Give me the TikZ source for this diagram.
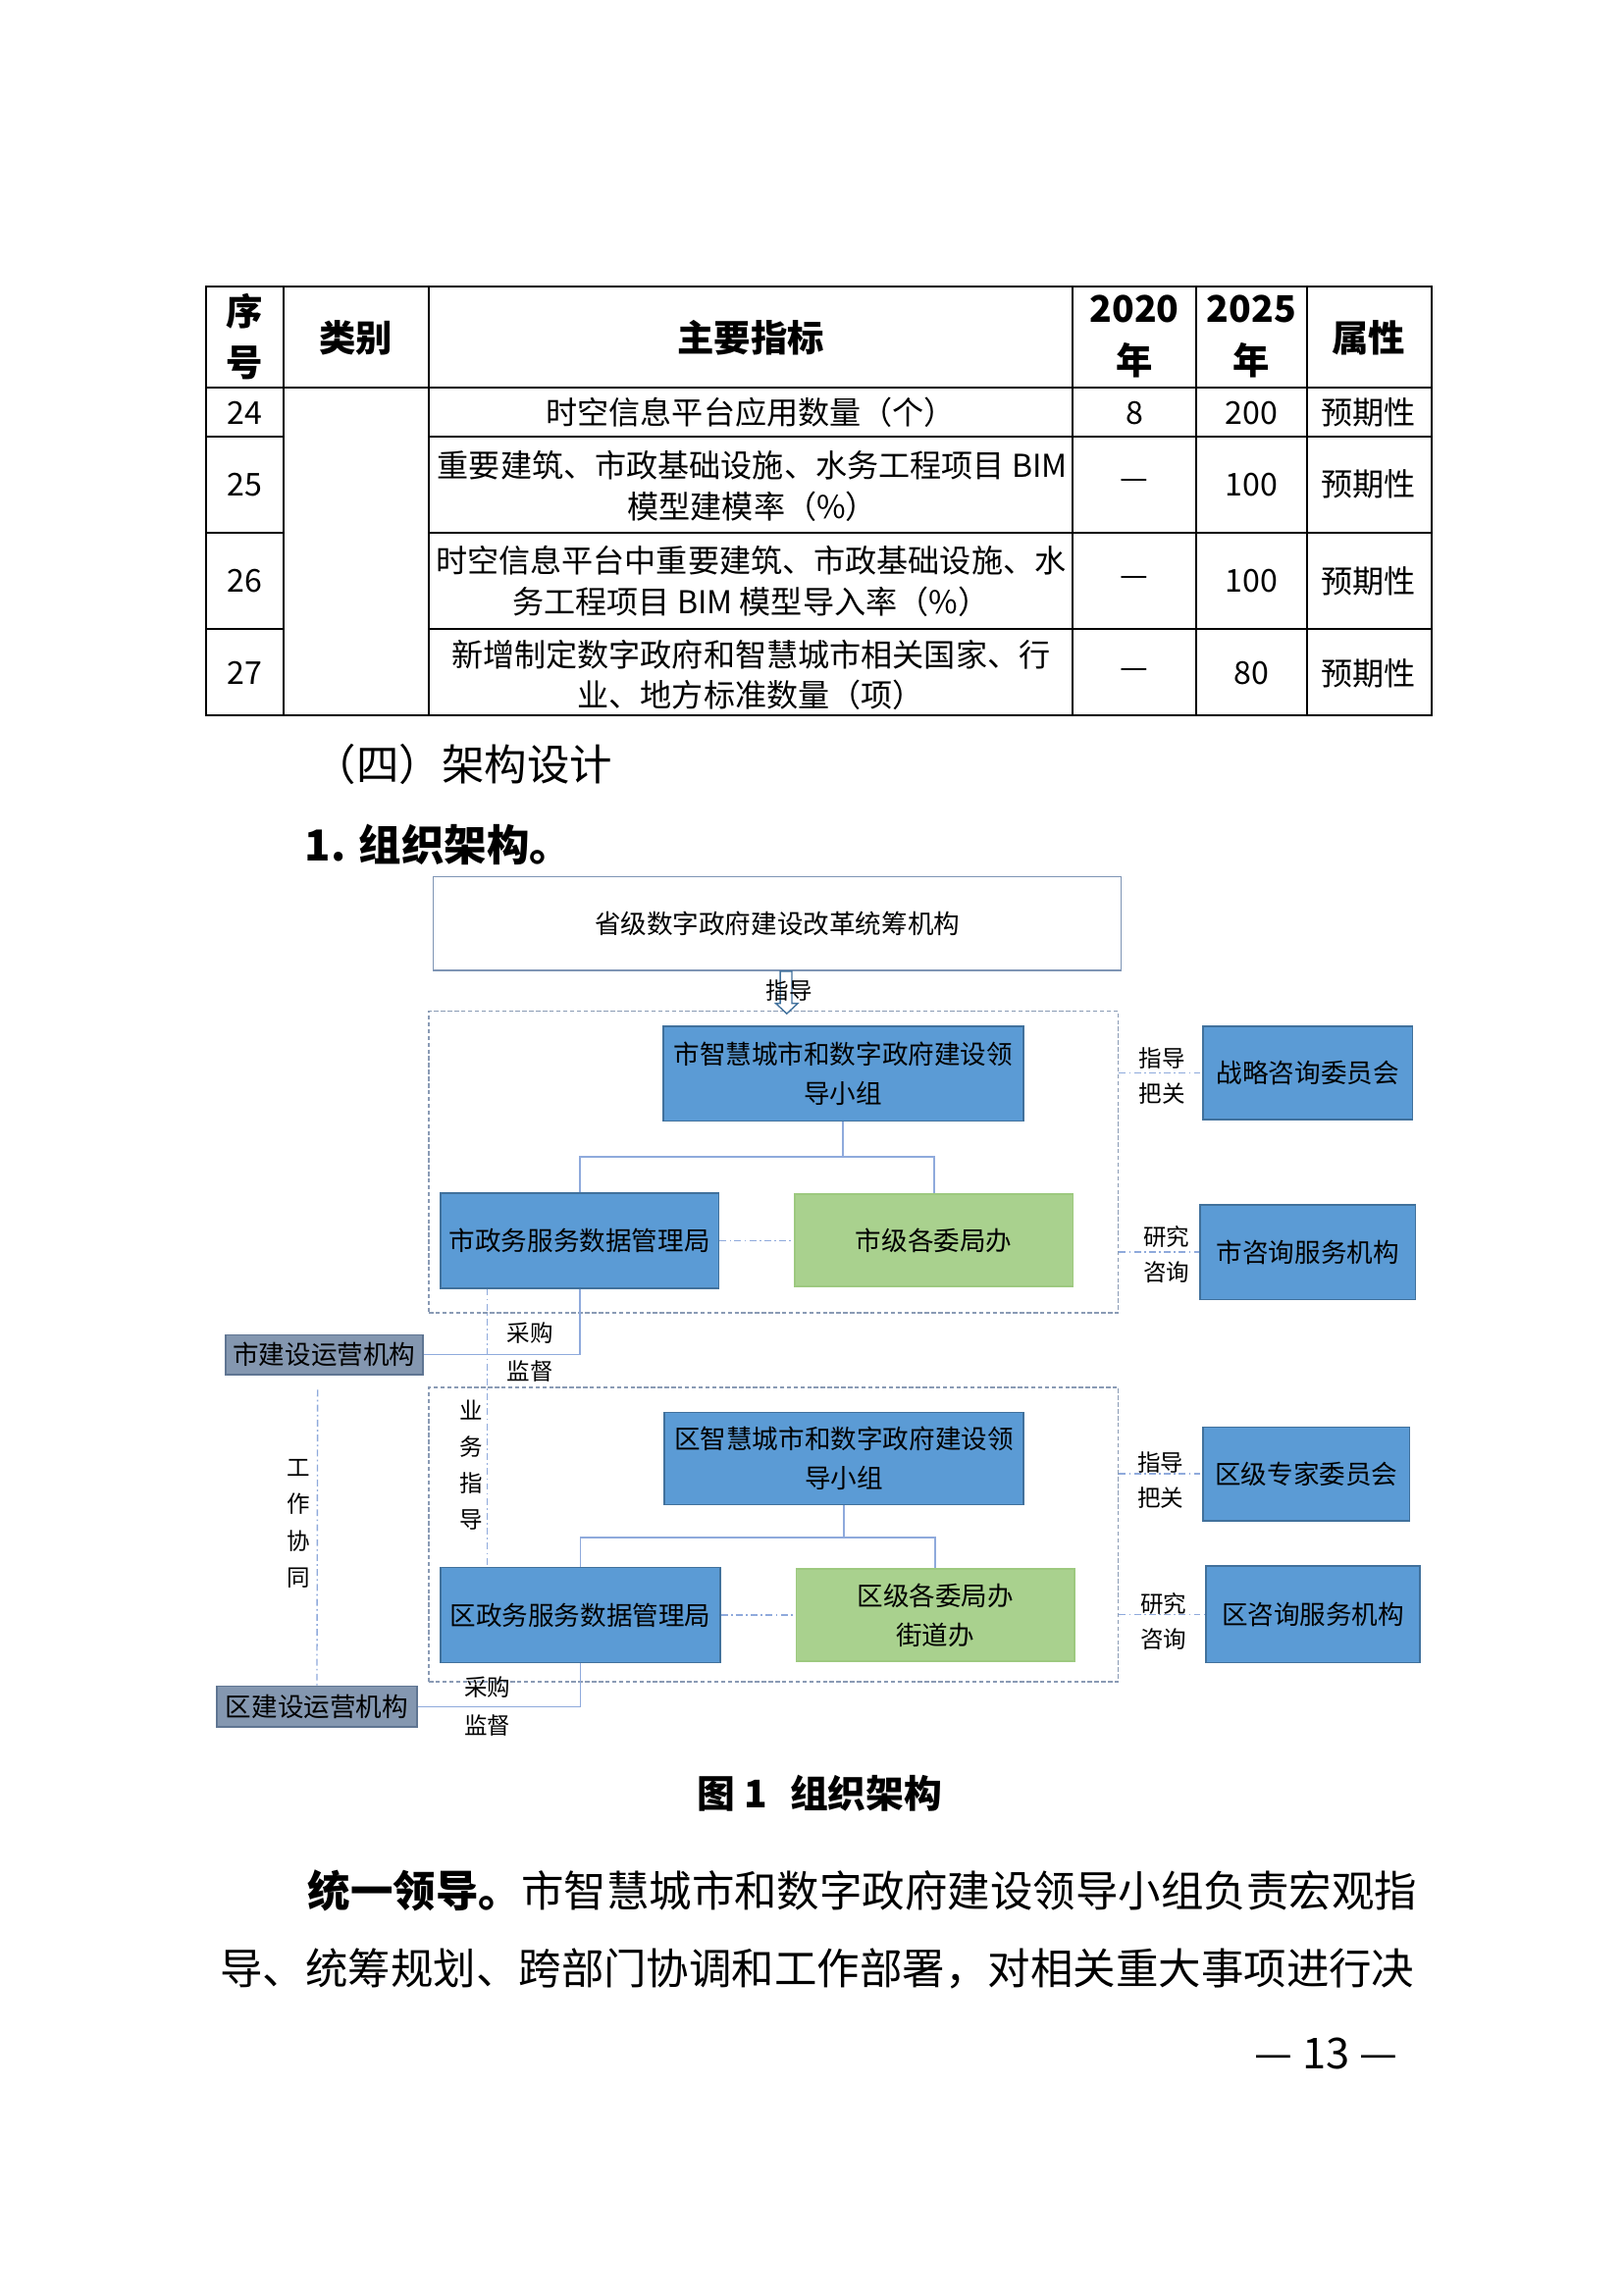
\documentclass[tikz,border=0pt]{standalone}
\usepackage{fontspec}
\setmainfont{Noto Sans CJK SC}
\usetikzlibrary{positioning, calc}
\usepackage{xcolor}

\definecolor{boxblue}{HTML}{5B9BD5}
\definecolor{boxedge}{HTML}{41719C}
\definecolor{boxgreen}{HTML}{A9D18E}
\definecolor{greenedge}{HTML}{9DC97F}
\definecolor{opsgrey}{HTML}{8497B0}
\definecolor{opsedge}{HTML}{5F7592}
\definecolor{topedge}{HTML}{7F95B5}
\definecolor{groupedge}{HTML}{8A9BB5}
\definecolor{treeblue}{HTML}{8FAADC}

\newcommand{\tabhead}{\fontsize{13.5pt}{17pt}\selectfont\bfseries}
\newcommand{\tabtext}{\fontsize{11.6pt}{15pt}\selectfont}
\newcommand{\orgtext}{\fontsize{9.6pt}{14.5pt}\selectfont}
\newcommand{\orglabel}{\fontsize{8.5pt}{13pt}\selectfont}
\newcommand{\pagetext}{\fontsize{15.7pt}{20pt}\selectfont}

\begin{document}
\begin{tikzpicture}[x=0.018936cm, y=-0.018936cm, node distance=1cm and 1cm]

    \tikzstyle{orgbox} = [rectangle, draw=boxedge, line width=0.6pt, fill=boxblue, text centered, align=center, font=\orgtext, inner sep=0pt]
    \tikzstyle{deptbox} = [orgbox, draw=greenedge, fill=boxgreen]
    \tikzstyle{opsbox} = [orgbox, draw=opsedge, fill=opsgrey]
    \tikzstyle{topbox} = [orgbox, draw=topedge, fill=white]
    \tikzstyle{groupbox} = [rectangle, draw=groupedge, line width=0.5pt, dash pattern=on 1.6pt off 0.9pt]
    \tikzstyle{treeline} = [draw=treeblue, line width=0.6pt]
    \tikzstyle{linkline} = [draw=treeblue, line width=0.5pt, dash pattern=on 2.5pt off 1.2pt on 0.6pt off 1.2pt]
    \tikzstyle{lab} = [font=\orglabel, align=center, inner sep=0pt]
    \tikzstyle{tabline} = [black, line width=0.7pt]
    \tikzstyle{headcell} = [font=\tabhead, align=center, inner sep=0pt]
    \tikzstyle{cell} = [font=\tabtext, align=center, inner sep=0pt]
    \tikzstyle{para} = [font=\pagetext, inner sep=0pt, anchor=west]
    \tikzset{boxsize/.style 2 args={minimum width=#1*0.018936cm, minimum height=#2*0.018936cm}}

    \fill[white] (0,0) rectangle (1109,1568);
    \useasboundingbox (0,0) rectangle (1109,1568);

    % indicator table
    \draw[tabline] (141,196) rectangle (978,489);
    \foreach \x in {194,293,733,817,893}
        \draw[tabline] (\x,196) -- (\x,489);
    \draw[tabline] (141,265) -- (978,265);
    \foreach \y in {298,364,430} {
        \draw[tabline] (141,\y) -- (194,\y);
        \draw[tabline] (293,\y) -- (978,\y);
    }

    \node (hnum) [headcell] at (167,230) {序\\[2pt]号};
    \node (hcat) [headcell] at (243,231) {类别};
    \node (hind) [headcell] at (513,231) {主要指标};
    \node (hold) [headcell] at (775,230) {2020\\[2pt]年};
    \node (hnew) [headcell] at (855,230) {2025\\[2pt]年};
    \node (hkind) [headcell] at (935,231) {属性};

    \foreach \n/\y/\a/\b in {24/282/8/200, 25/331/—/100, 26/397/—/100, 27/460/—/80} {
        \node (num\n) [cell] at (167,\y) {\n};
        \node (old\n) [cell] at (775,\y) {\a};
        \node (new\n) [cell] at (855,\y) {\b};
        \node (kind\n) [cell] at (935,\y) {预期性};
    }
    \node (ind24) [cell] at (513,282) {时空信息平台应用数量（个）};
    \node (ind25) [cell] at (514,332) {重要建筑、市政基础设施、水务工程项目 BIM\\模型建模率（\%）};
    \node (ind26) [cell] at (513,397) {时空信息平台中重要建筑、市政基础设施、水\\务工程项目 BIM 模型导入率（\%）};
    \node (ind27) [cell] at (513,461) {新增制定数字政府和智慧城市相关国家、行\\业、地方标准数量（项）};

    % headings
    \node (sec4) [para] at (214,522) {（四）架构设计};
    \node (sub1) [para, font=\pagetext\bfseries] at (208,577) {1. 组织架构。};

    % provincial level
    \node (prov) [topbox, boxsize={470}{64}] at (531,631) {省级数字政府建设改革统筹机构};

    % city level
    \node (citygroup) [groupbox, boxsize={471}{206}] at (528.5,794) {};
    \node (citylead) [orgbox, boxsize={246}{65}] at (576,733.5) {市智慧城市和数字政府建设领\\导小组};
    \node (citydata) [orgbox, boxsize={190}{65}] at (396,847.5) {市政务服务数据管理局};
    \node (citydept) [deptbox, boxsize={190}{63}] at (638,847.5) {市级各委局办};
    \node (strategy) [orgbox, boxsize={143}{64}] at (893.5,733) {战略咨询委员会};
    \node (cityconsult) [orgbox, boxsize={147}{65}] at (893.5,855.5) {市咨询服务机构};
    \node (cityops) [opsbox, boxsize={135}{27}] at (221.5,925.5) {市建设运营机构};

    % district level
    \node (distgroup) [groupbox, boxsize={471}{201}] at (528.5,1048.5) {};
    \node (distlead) [orgbox, boxsize={245}{63}] at (576.5,996.5) {区智慧城市和数字政府建设领\\导小组};
    \node (distdata) [orgbox, boxsize={191}{65}] at (396.5,1103.5) {区政务服务数据管理局};
    \node (distdept) [deptbox, boxsize={190}{63}] at (639,1103.5) {区级各委局办\\街道办};
    \node (expert) [orgbox, boxsize={141}{64}] at (892.5,1007) {区级专家委员会};
    \node (distconsult) [orgbox, boxsize={146}{66}] at (897,1103) {区咨询服务机构};
    \node (distops) [opsbox, boxsize={137}{28}] at (216.5,1166) {区建设运营机构};

    % guidance arrow
    \draw[boxedge, line width=0.5pt, fill=white] ($(prov.south)+(2,0)$) -- ++(0,22) -- ++(-3,0) -- ++(7.5,7) -- ++(7.5,-7) -- ++(-4,0) -- ++(0,-22) -- cycle;
    \node (guide) [lab] at (539,677) {指导};

    % tree connectors
    \draw[treeline] (citylead.south) -- ++(0,24) -| (citydata.north);
    \draw[treeline] (citylead.south) -- ++(0,24) -| (citydept.north);
    \draw[treeline] (distlead.south) -- ++(0,22) -| (distdata.north);
    \draw[treeline] (distlead.south) -- ++(0,22) -| (distdept.north);

    % procurement lines
    \draw[treeline] (citydata.south) |- (cityops.east);
    \draw[treeline] (distdata.south) |- (distops.east);
    \node (citybuy) [lab] at (362,924) {采购\\[1pt]监督};
    \node (distbuy) [lab] at (333,1166) {采购\\[1pt]监督};

    % dash-dot links
    \draw[linkline] (citydata.east) -- (citydept.west);
    \draw[linkline] (distdata.east) -- (distdept.west);
    \draw[linkline] (citygroup.east |- strategy.west) -- (strategy.west);
    \draw[linkline] (citygroup.east |- cityconsult.west) -- (cityconsult.west);
    \draw[linkline] (distgroup.east |- expert.west) -- (expert.west);
    \draw[linkline] (distgroup.east |- distconsult.west) -- (distconsult.west);
    \node (cityguard) [lab] at (794,735) {指导\\把关};
    \node (cityresearch) [lab] at (797,857) {研究\\咨询};
    \node (distguard) [lab] at (793,1011) {指导\\把关};
    \node (distresearch) [lab] at (795,1108) {研究\\咨询};

    \draw[linkline] ($(citydata.south)+(-63,0)$) -- ($(distdata.north)+(-63.5,0)$);
    \node (business) [lab, font=\orglabel\fontsize{8.5pt}{13.4pt}\selectfont] at (322,1001) {业\\务\\指\\导};

    \draw[linkline] ($(cityops.south)+(-4.5,10)$) -- (distops.north);
    \node (cowork) [lab, font=\orglabel\fontsize{8.5pt}{13.4pt}\selectfont] at (204,1041) {工\\作\\协\\同};

    % caption and text
    \node (caption) [font=\fontsize{14pt}{18pt}\selectfont\bfseries, inner sep=0pt] at (560,1225) {图 1\hspace{0.6em}组织架构};
    \node (line1) [para] at (210,1292) {\textbf{统一领导。}市智慧城市和数字政府建设领导小组负责宏观指};
    \node (line2) [para] at (150,1345) {导、统筹规划、跨部门协调和工作部署，对相关重大事项进行决};
    \node (pageno) [font=\pagetext, inner sep=0pt] at (906,1403) {— 13 —};

\end{tikzpicture}
\end{document}
